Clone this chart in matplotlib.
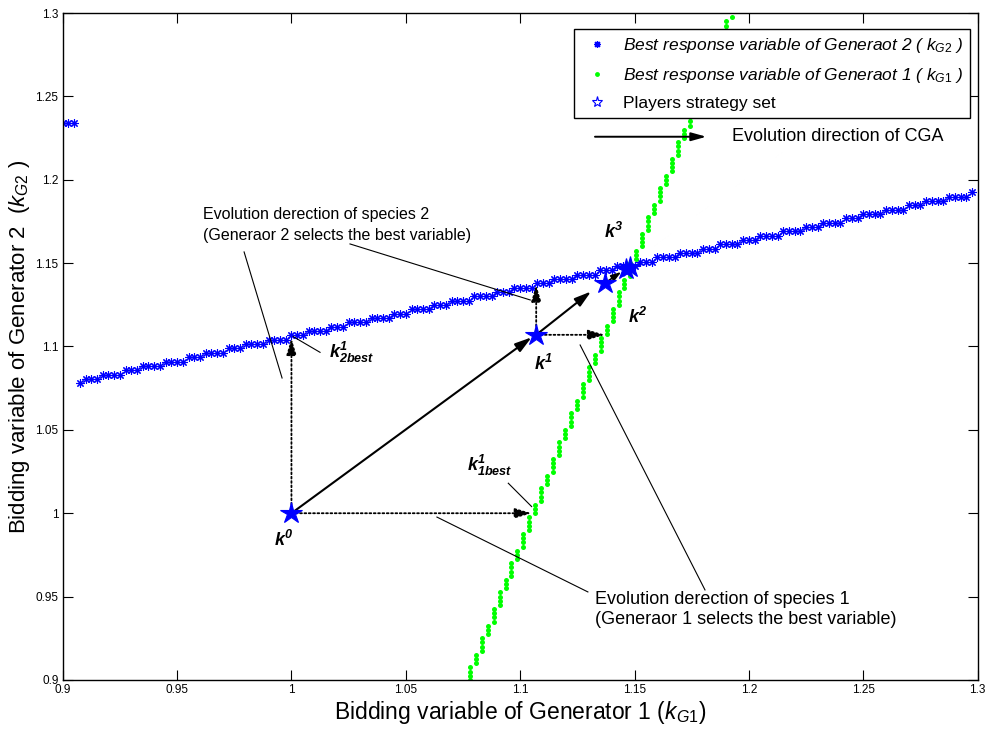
import numpy as np
import matplotlib
matplotlib.use("Agg")
import matplotlib.pyplot as plt
from matplotlib.lines import Line2D

plt.rcParams["font.family"] = ["Liberation Sans", "DejaVu Sans"]
plt.rcParams["mathtext.fontset"] = "custom"
plt.rcParams["mathtext.rm"] = "Liberation Sans"
plt.rcParams["mathtext.it"] = "Liberation Sans:italic"
plt.rcParams["mathtext.bf"] = "Liberation Sans:bold"
plt.rcParams["mathtext.bfit"] = "Liberation Sans:bold:italic"

# best response of generator 2: y levels and points per level
blue_levels = [1.0780, 1.0806, 1.0832, 1.0858, 1.0884, 1.0910, 1.0936, 1.0962, 1.0988,
               1.1014, 1.1040, 1.1066, 1.1092, 1.1118, 1.1144, 1.1170, 1.1196, 1.1222,
               1.1248, 1.1274, 1.1300, 1.1326, 1.1352, 1.1378, 1.1404, 1.1430, 1.1456,
               1.1482, 1.1508, 1.1534, 1.1560, 1.1586, 1.1612, 1.1638, 1.1664, 1.1690,
               1.1716, 1.1742, 1.1768, 1.1794, 1.1820, 1.1846, 1.1872, 1.1898, 1.1924]
blue_counts = [1, 3, 4, 3, 4, 4, 3, 4, 3, 4, 4, 3, 4, 3, 4, 4, 3, 4, 3, 4, 4, 3, 4,
               3, 4, 4, 3, 4, 3, 4, 4, 3, 4, 3, 4, 4, 3, 4, 3, 4, 4, 3, 4, 4, 1]
blue_x_range = (0.9075, 1.2975)  # scan grid of generator 1's variable
blue_outlier_x = [0.9, 0.9025, 0.905]
blue_outlier_y = [1.234, 1.234, 1.234]

# best response of generator 1: x levels and points per level
green_levels = [1.0780, 1.0806, 1.0832, 1.0858, 1.0884, 1.0910, 1.0936, 1.0962, 1.0988,
                1.1014, 1.1040, 1.1066, 1.1092, 1.1118, 1.1144, 1.1170, 1.1196, 1.1222,
                1.1248, 1.1274, 1.1300, 1.1326, 1.1352, 1.1378, 1.1404, 1.1430, 1.1456,
                1.1482, 1.1508, 1.1534, 1.1560, 1.1586, 1.1612, 1.1638, 1.1664, 1.1690,
                1.1716, 1.1742, 1.1768, 1.1794, 1.1820, 1.1846, 1.1872, 1.1898, 1.1924]
green_counts = [4, 3, 4, 3, 4, 4, 3, 4, 3, 4, 4, 3, 4, 3, 4, 4, 3, 4, 3, 4, 4, 3, 4,
                3, 4, 4, 3, 4, 3, 4, 4, 3, 4, 3, 4, 4, 3, 4, 3, 4, 4, 3, 4, 4, 1]
green_y_range = (0.9, 1.2975)  # scan grid of generator 2's variable

# players strategy set k0..k3
strat_x = [1.0, 1.107, 1.137, 1.1462, 1.1482]
strat_y = [1.0, 1.107, 1.138, 1.1462, 1.1478]
k1best = (1.105, 1.0)
k2best = (1.0, 1.105)
k1_best_x = 1.137
k1_best_y = 1.137

blue_y = np.repeat(blue_levels, blue_counts)
blue_x = np.linspace(blue_x_range[0], blue_x_range[1], len(blue_y))
green_x = np.repeat(green_levels, green_counts)
green_y = np.linspace(green_y_range[0], green_y_range[1], len(green_x))

fig = plt.figure(figsize=(9.97, 7.31), dpi=100)
ax = fig.add_axes([0.0629, 0.0698, 0.9177, 0.9124])

ast = (8, 2, 0)
ax.plot(blue_outlier_x, blue_outlier_y, ls="none", marker=ast, ms=6, mew=0.8,
        color="#0000ff")
ax.plot(blue_x, blue_y, ls="none", marker=ast, ms=6, mew=0.8, color="#0000ff")
ax.plot(green_x, green_y, ls="none", marker="o", ms=3.6, mew=0, color="#00ff00")

# arrows
head = "-|>,head_length=1.0,head_width=0.3"
solid = dict(arrowstyle=head, color="black", lw=1.5, shrinkA=0, shrinkB=0)
dotted = dict(arrowstyle=head, color="black", lw=1.3, ls=(0, (1, 1.4)), shrinkA=0, shrinkB=0)
ax.annotate("", xy=(strat_x[1] - 0.002, strat_y[1] - 0.0015), xytext=(strat_x[0], strat_y[0]),
            arrowprops=solid)
ax.annotate("", xy=(strat_x[2] - 0.006, strat_y[2] - 0.005), xytext=(strat_x[1], strat_y[1]),
            arrowprops=solid)
ax.annotate("", xy=(strat_x[3] - 0.002, strat_y[3] - 0.0015), xytext=(strat_x[2], strat_y[2]),
            arrowprops=dict(solid, arrowstyle="-|>,head_length=0.6,head_width=0.2", lw=1.2))
ax.annotate("", xy=k2best, xytext=(strat_x[0], strat_y[0]), arrowprops=dotted)
ax.annotate("", xy=k1best, xytext=(strat_x[0], strat_y[0]), arrowprops=dotted)
ax.annotate("", xy=(strat_x[1], k1_best_y), xytext=(strat_x[1], strat_y[1]), arrowprops=dotted)
ax.annotate("", xy=(k1_best_x, strat_y[1]), xytext=(strat_x[1], strat_y[1]), arrowprops=dotted)

ax.plot(strat_x, strat_y, ls="none", marker="*", ms=16, mew=0.8, color="#0000ff", zorder=5)

# pointer lines
thin = dict(color="black", lw=0.8)
ax.plot([0.9793, 0.9959], [1.1567, 1.0811], **thin)
ax.plot([1.0256, 1.1044], [1.1615, 1.1279], **thin)
ax.plot([1.0636, 1.1296], [0.9977, 0.9528], **thin)
ax.plot([1.1262, 1.1808], [1.1009, 0.954], **thin)
ax.plot([1.0008, 1.0125], [1.1059, 1.0965], **thin)
ax.plot([1.0948, 1.105], [1.018, 1.004], **thin)

ax.text(0.9613, 1.1789, "Evolution derection of species 2", fontsize=11.5, va="center")
ax.text(0.9613, 1.1663, "(Generaor 2 selects the best variable)", fontsize=11.5, va="center")
ax.text(1.1327, 0.9485, "Evolution derection of species 1", fontsize=13, va="center")
ax.text(1.1327, 0.9365, "(Generaor 1 selects the best variable)", fontsize=13, va="center")

klab = dict(fontsize=13, ha="center", va="center")
ax.text(0.9965, 0.984, r"$\mathbfit{k}^{\mathbfit{0}}$", **klab)
ax.text(1.110, 1.0895, r"$\mathbfit{k}^{\mathbfit{1}}$", **klab)
ax.text(1.1511, 1.1177, r"$\mathbfit{k}^{\mathbfit{2}}$", **klab)
ax.text(1.1406, 1.1687, r"$\mathbfit{k}^{\mathbfit{3}}$", **klab)
ax.text(1.0165, 1.0967, r"$\mathbfit{k}^{\mathbfit{1}}_{\mathbfit{2best}}$", fontsize=13,
        ha="left", va="center")
ax.text(1.0768, 1.0289, r"$\mathbfit{k}^{\mathbfit{1}}_{\mathbfit{1best}}$", fontsize=13,
        ha="left", va="center")

# CGA direction arrow
ax.annotate("", xy=(1.1814, 1.2258), xytext=(1.1327, 1.2258),
            arrowprops=dict(arrowstyle="-|>,head_length=0.9,head_width=0.25", color="black",
                            lw=1.4, shrinkA=0, shrinkB=0))
ax.text(1.1924, 1.2258, "Evolution direction of CGA", fontsize=13, va="center")

ticks = [0.9, 0.95, 1.0, 1.05, 1.1, 1.15, 1.2, 1.25, 1.3]
tick_labels = ["0.9", "0.95", "1", "1.05", "1.1", "1.15", "1.2", "1.25", "1.3"]
ax.set_xlim(0.9, 1.3)
ax.set_ylim(0.9, 1.3)
ax.set_xticks(ticks)
ax.set_xticklabels(tick_labels)
ax.set_yticks(ticks)
ax.set_yticklabels(tick_labels)
ax.tick_params(direction="in", top=True, right=True, length=7, width=0.8, labelsize=8.5, pad=3)
for s in ax.spines.values():
    s.set_linewidth(1.0)

ax.set_xlabel(r"Bidding variable of Generator 1 ($k_{G1}$)", fontsize=16.5, labelpad=2)
ax.set_ylabel(r"Bidding variable of Generator 2  ($k_{G2}$ )", fontsize=16)
ax.yaxis.set_label_coords(-0.034, 0.5)

handles = [
    Line2D([], [], ls="none", marker=ast, ms=5, mew=0.9, color="#0000ff"),
    Line2D([], [], ls="none", marker="o", ms=3.5, mew=0, color="#00ff00"),
    Line2D([], [], ls="none", marker="*", ms=8, mew=0.8, mfc="none", mec="#0000ff"),
]
labels = [
    r"Best response variable of Generaot 2 ( $k_{G2}$ )",
    r"Best response variable of Generaot 1 ( $k_{G1}$ )",
    "Players strategy set",
]
leg = ax.legend(handles, labels, loc="upper right", bbox_to_anchor=(0.9916, 0.9756),
                fontsize=12.5, frameon=True, fancybox=False, framealpha=1,
                edgecolor="black", handlelength=1.8, handletextpad=0.6,
                labelspacing=0.62, borderpad=0.4, borderaxespad=0)
leg.get_frame().set_linewidth(1.0)
for t in leg.get_texts()[:2]:
    t.set_style("italic")

fig.savefig("out.png", dpi=100)
